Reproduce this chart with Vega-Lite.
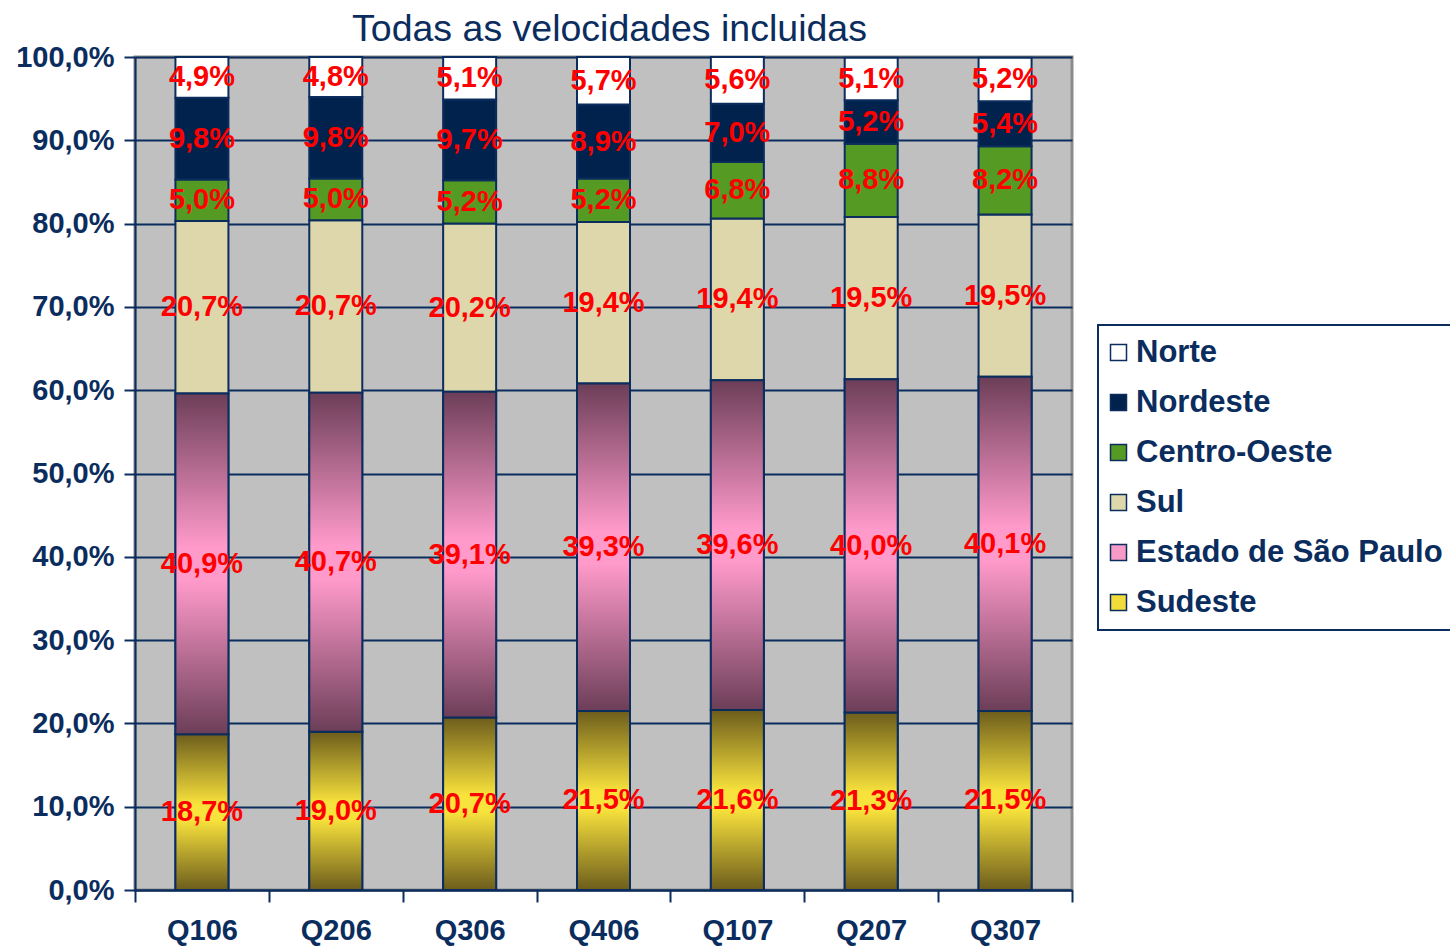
{
  "$schema": "https://vega.github.io/schema/vega-lite/v6.json",
  "autosize": "none",
  "width": 937,
  "height": 833,
  "padding": {"left": 135, "top": 57, "right": 378, "bottom": 57},
  "background": "white",
  "title": {
    "text": "Todas as velocidades incluidas",
    "font": "Liberation Sans",
    "fontSize": 37.5,
    "fontWeight": "normal",
    "color": "#0b2d5e",
    "anchor": "middle",
    "offset": -5,
    "dx": 6
  },
  "data": {
    "values": [
      {"trimestre": "Q106", "regiao": "Sudeste", "valor": 18.7},
      {"trimestre": "Q106", "regiao": "Estado de São Paulo", "valor": 40.9},
      {"trimestre": "Q106", "regiao": "Sul", "valor": 20.7},
      {"trimestre": "Q106", "regiao": "Centro-Oeste", "valor": 5.0},
      {"trimestre": "Q106", "regiao": "Nordeste", "valor": 9.8},
      {"trimestre": "Q106", "regiao": "Norte", "valor": 4.9},
      {"trimestre": "Q206", "regiao": "Sudeste", "valor": 19.0},
      {"trimestre": "Q206", "regiao": "Estado de São Paulo", "valor": 40.7},
      {"trimestre": "Q206", "regiao": "Sul", "valor": 20.7},
      {"trimestre": "Q206", "regiao": "Centro-Oeste", "valor": 5.0},
      {"trimestre": "Q206", "regiao": "Nordeste", "valor": 9.8},
      {"trimestre": "Q206", "regiao": "Norte", "valor": 4.8},
      {"trimestre": "Q306", "regiao": "Sudeste", "valor": 20.7},
      {"trimestre": "Q306", "regiao": "Estado de São Paulo", "valor": 39.1},
      {"trimestre": "Q306", "regiao": "Sul", "valor": 20.2},
      {"trimestre": "Q306", "regiao": "Centro-Oeste", "valor": 5.2},
      {"trimestre": "Q306", "regiao": "Nordeste", "valor": 9.7},
      {"trimestre": "Q306", "regiao": "Norte", "valor": 5.1},
      {"trimestre": "Q406", "regiao": "Sudeste", "valor": 21.5},
      {"trimestre": "Q406", "regiao": "Estado de São Paulo", "valor": 39.3},
      {"trimestre": "Q406", "regiao": "Sul", "valor": 19.4},
      {"trimestre": "Q406", "regiao": "Centro-Oeste", "valor": 5.2},
      {"trimestre": "Q406", "regiao": "Nordeste", "valor": 8.9},
      {"trimestre": "Q406", "regiao": "Norte", "valor": 5.7},
      {"trimestre": "Q107", "regiao": "Sudeste", "valor": 21.6},
      {"trimestre": "Q107", "regiao": "Estado de São Paulo", "valor": 39.6},
      {"trimestre": "Q107", "regiao": "Sul", "valor": 19.4},
      {"trimestre": "Q107", "regiao": "Centro-Oeste", "valor": 6.8},
      {"trimestre": "Q107", "regiao": "Nordeste", "valor": 7.0},
      {"trimestre": "Q107", "regiao": "Norte", "valor": 5.6},
      {"trimestre": "Q207", "regiao": "Sudeste", "valor": 21.3},
      {"trimestre": "Q207", "regiao": "Estado de São Paulo", "valor": 40.0},
      {"trimestre": "Q207", "regiao": "Sul", "valor": 19.5},
      {"trimestre": "Q207", "regiao": "Centro-Oeste", "valor": 8.8},
      {"trimestre": "Q207", "regiao": "Nordeste", "valor": 5.2},
      {"trimestre": "Q207", "regiao": "Norte", "valor": 5.1},
      {"trimestre": "Q307", "regiao": "Sudeste", "valor": 21.5},
      {"trimestre": "Q307", "regiao": "Estado de São Paulo", "valor": 40.1},
      {"trimestre": "Q307", "regiao": "Sul", "valor": 19.5},
      {"trimestre": "Q307", "regiao": "Centro-Oeste", "valor": 8.2},
      {"trimestre": "Q307", "regiao": "Nordeste", "valor": 5.4},
      {"trimestre": "Q307", "regiao": "Norte", "valor": 5.2}
    ]
  },
  "transform": [
    {"calculate": "indexof(['Sudeste','Estado de São Paulo','Sul','Centro-Oeste','Nordeste','Norte'], datum.regiao)", "as": "ord"},
    {"stack": "valor", "groupby": ["trimestre"], "sort": [{"field": "ord", "order": "ascending"}], "as": ["y0", "y1"]},
    {"calculate": "(datum.y0 + datum.y1) / 2", "as": "ymid"},
    {"calculate": "replace(format(datum.valor, '.1f'), '.', ',') + '%'", "as": "rotulo"}
  ],
  "encoding": {
    "x": {
      "field": "trimestre",
      "type": "nominal",
      "sort": ["Q106", "Q206", "Q306", "Q406", "Q107", "Q207", "Q307"],
      "scale": {"paddingInner": 0, "paddingOuter": 0},
      "axis": {
        "title": null,
        "labelAngle": 0,
        "labelFont": "Liberation Sans",
        "labelFontWeight": "bold",
        "labelFontSize": 29,
        "labelColor": "#0b2d5e",
        "labelPadding": 14,
        "domainColor": "#0b2d5e",
        "domainWidth": 2,
        "tickColor": "#0b2d5e",
        "tickWidth": 2,
        "tickSize": 12,
        "tickBand": "extent",
        "grid": false
      }
    },
    "y": {
      "field": "y0",
      "type": "quantitative",
      "scale": {"domain": [0, 100], "nice": false},
      "axis": {
        "title": null,
        "values": [0, 10, 20, 30, 40, 50, 60, 70, 80, 90, 100],
        "labelExpr": "replace(format(datum.value, '.1f'), '.', ',') + '%'",
        "labelFont": "Liberation Sans",
        "labelFontWeight": "bold",
        "labelFontSize": 29,
        "labelColor": "#0b2d5e",
        "labelPadding": 10,
        "domainColor": "#0b2d5e",
        "domainWidth": 2,
        "tickColor": "#0b2d5e",
        "tickWidth": 2,
        "tickSize": 11,
        "grid": true,
        "gridColor": "#0b2d5e",
        "gridWidth": 2,
        "gridOpacity": 1
      }
    }
  },
  "layer": [
    {
      "mark": {"type": "bar", "size": 53, "stroke": "#0b2d5e", "strokeWidth": 2},
      "encoding": {
        "y2": {"field": "y1"},
        "color": {
          "field": "regiao",
          "type": "nominal",
          "scale": {
            "domain": ["Norte", "Nordeste", "Centro-Oeste", "Sul", "Estado de São Paulo", "Sudeste"],
            "range": ["#ffffff", "#00224c", "#559a22", "#ddd7ab", "#f79ac8", "#f2dc3a"]
          },
          "legend": {
            "title": null,
            "orient": "none",
            "legendX": 963,
            "legendY": 268,
            "symbolType": "square",
            "symbolSize": 256,
            "symbolStrokeColor": "#0b2d5e",
            "symbolStrokeWidth": 1.5,
            "symbolOpacity": 1,
            "symbolOffset": -7,
            "labelFont": "Liberation Sans",
            "labelFontWeight": "bold",
            "labelFontSize": 31,
            "labelColor": "#0b2d5e",
            "labelOffset": 2,
            "labelLimit": 500,
            "rowPadding": 18,
            "padding": 12,
            "strokeColor": "#0b2d5e",
            "fillColor": "white"
          }
        }
      }
    },
    {
      "transform": [{"filter": "datum.regiao === 'Sudeste'"}],
      "mark": {
        "type": "bar",
        "size": 53,
        "stroke": "#0b2d5e",
        "strokeWidth": 2,
        "color": {
          "gradient": "linear",
          "x1": 0, "y1": 0, "x2": 0, "y2": 1,
          "stops": [
            {"offset": 0, "color": "#6d5d1c"},
            {"offset": 0.45, "color": "#f8e23c"},
            {"offset": 0.55, "color": "#f8e23c"},
            {"offset": 1, "color": "#6d5d1c"}
          ]
        }
      },
      "encoding": {"y2": {"field": "y1"}}
    },
    {
      "transform": [{"filter": "datum.regiao === 'Estado de São Paulo'"}],
      "mark": {
        "type": "bar",
        "size": 53,
        "stroke": "#0b2d5e",
        "strokeWidth": 2,
        "color": {
          "gradient": "linear",
          "x1": 0, "y1": 0, "x2": 0, "y2": 1,
          "stops": [
            {"offset": 0, "color": "#6c3e58"},
            {"offset": 0.45, "color": "#ff9acb"},
            {"offset": 0.55, "color": "#ff9acb"},
            {"offset": 1, "color": "#6c3e58"}
          ]
        }
      },
      "encoding": {"y2": {"field": "y1"}}
    },
    {
      "mark": {
        "type": "text",
        "font": "Liberation Sans",
        "fontWeight": "bold",
        "fontSize": 29,
        "color": "#ff0000",
        "baseline": "middle",
        "align": "center"
      },
      "encoding": {
        "y": {"field": "ymid", "type": "quantitative"},
        "text": {"field": "rotulo", "type": "nominal"}
      }
    }
  ],
  "config": {
    "view": {"fill": "#c0c0c0", "stroke": "#8c8c8c", "strokeWidth": 3},
    "legend": {"strokeWidth": 2}
  }
}
